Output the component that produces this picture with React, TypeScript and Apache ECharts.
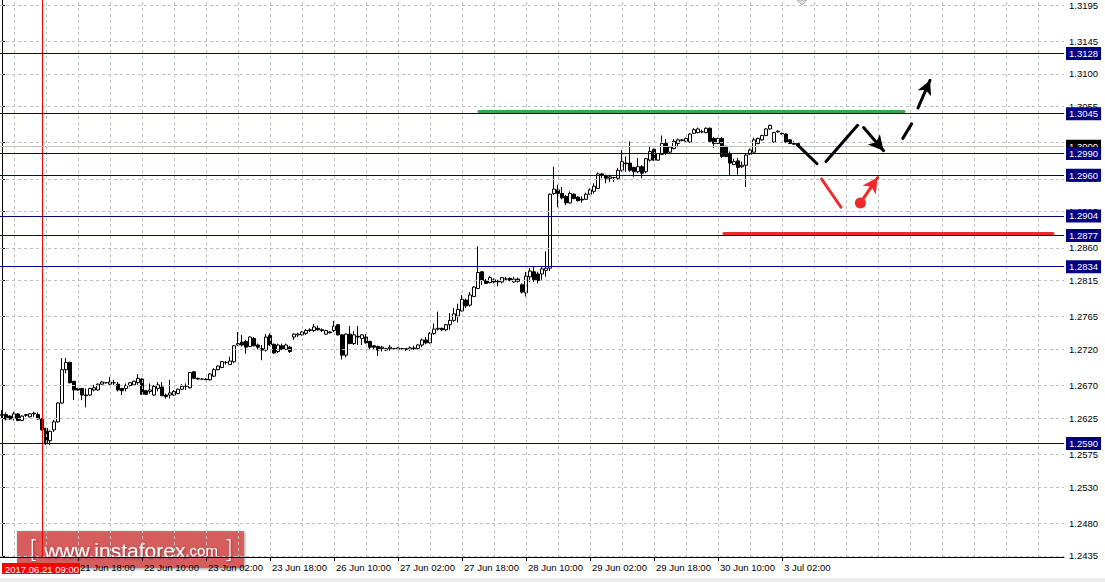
import React, { useEffect, useRef } from "react";
import * as echarts from "echarts";

// ---- H1 candles (21 Jun 2017 ... 3 Jul 2017), one slot per hour ----
const opens = [
  1.2630, 1.2630, 1.2628, 1.2625, 1.2631, 1.2622, 1.2629, 1.2627, 1.2632, 1.2630,
  1.2624, 1.2611, 1.2594, 1.2609, 1.2620, 1.2646, 1.2692, 1.2702, 1.2676, 1.2666,
  1.2666, 1.2657, 1.2657, 1.2664, 1.2664, 1.2672, 1.2674, 1.2672, 1.2674, 1.2672,
  1.2666, 1.2666, 1.2670, 1.2671, 1.2674, 1.2679, 1.2663, 1.2662, 1.2657, 1.2666,
  1.2668, 1.2657, 1.2657, 1.2657, 1.2659, 1.2665, 1.2669, 1.2667, 1.2689, 1.2680,
  1.2679, 1.2679, 1.2678, 1.2683, 1.2692, 1.2695, 1.2702, 1.2699, 1.2703, 1.2726,
  1.2730, 1.2731, 1.2724, 1.2735, 1.2726, 1.2721, 1.2719, 1.2739, 1.2727, 1.2717,
  1.2725, 1.2720, 1.2723, 1.2737, 1.2740, 1.2740, 1.2742, 1.2746, 1.2746, 1.2749,
  1.2747, 1.2741, 1.2744, 1.2746, 1.2754, 1.2740, 1.2712, 1.2741, 1.2728, 1.2738,
  1.2735, 1.2737, 1.2731, 1.2725, 1.2724, 1.2721, 1.2719, 1.2721, 1.2721, 1.2720,
  1.2721, 1.2721, 1.2720, 1.2722, 1.2721, 1.2726, 1.2733, 1.2729, 1.2742, 1.2748,
  1.2749, 1.2747, 1.2754, 1.2760, 1.2766, 1.2773, 1.2788, 1.2781, 1.2793, 1.2804,
  1.2827, 1.2815, 1.2812, 1.2816, 1.2814, 1.2813, 1.2817, 1.2818, 1.2813, 1.2817,
  1.2809, 1.2798, 1.2820, 1.2827, 1.2824, 1.2824, 1.2829, 1.2832, 1.2935, 1.2940,
  1.2935, 1.2931, 1.2922, 1.2934, 1.2930, 1.2927, 1.2927, 1.2934, 1.2938, 1.2942,
  1.2962, 1.2959, 1.2956, 1.2957, 1.2956, 1.2967, 1.2977, 1.2977, 1.2971, 1.2965,
  1.2972, 1.2965, 1.2981, 1.2996, 1.2981, 1.2989, 1.3004, 1.2992, 1.2997, 1.3004,
  1.3008, 1.3007, 1.3006, 1.3018, 1.3019, 1.3020, 1.3019, 1.3025, 1.3011, 1.3004,
  1.3011, 1.3000, 1.2990, 1.2975, 1.2980, 1.2972, 1.2974, 1.2989, 1.2992, 1.3004,
  1.3009, 1.3015, 1.3024, 1.3006, 1.3020, 1.3018, 1.3017, 1.3009, 1.3004, 1.3004,
];
const highs = [
  1.2636, 1.2633, 1.2629, 1.2634, 1.2632, 1.2629, 1.2631, 1.2632, 1.2634, 1.2633,
  1.2625, 1.2612, 1.2608, 1.2623, 1.2647, 1.2708, 1.2708, 1.2703, 1.2676, 1.2667,
  1.2667, 1.2666, 1.2667, 1.2671, 1.2673, 1.2676, 1.2675, 1.2682, 1.2678, 1.2675,
  1.2667, 1.2673, 1.2675, 1.2677, 1.2686, 1.2680, 1.2664, 1.2673, 1.2671, 1.2675,
  1.2675, 1.2659, 1.2678, 1.2664, 1.2666, 1.2672, 1.2673, 1.2689, 1.2690, 1.2681,
  1.2680, 1.2680, 1.2687, 1.2694, 1.2698, 1.2704, 1.2704, 1.2710, 1.2726, 1.2744,
  1.2740, 1.2733, 1.2738, 1.2737, 1.2728, 1.2726, 1.2741, 1.2742, 1.2728, 1.2728,
  1.2728, 1.2728, 1.2725, 1.2742, 1.2743, 1.2745, 1.2748, 1.2749, 1.2755, 1.2753,
  1.2749, 1.2747, 1.2745, 1.2759, 1.2755, 1.2741, 1.2742, 1.2752, 1.2745, 1.2752,
  1.2741, 1.2741, 1.2732, 1.2726, 1.2725, 1.2725, 1.2722, 1.2726, 1.2722, 1.2723,
  1.2722, 1.2722, 1.2724, 1.2725, 1.2727, 1.2735, 1.2737, 1.2744, 1.2756, 1.2772,
  1.2750, 1.2755, 1.2770, 1.2777, 1.2783, 1.2795, 1.2790, 1.2799, 1.2807, 1.2862,
  1.2828, 1.2817, 1.2821, 1.2818, 1.2816, 1.2820, 1.2820, 1.2819, 1.2820, 1.2819,
  1.2811, 1.2827, 1.2832, 1.2834, 1.2827, 1.2834, 1.2855, 1.2935, 1.2972, 1.2947,
  1.2944, 1.2933, 1.2938, 1.2935, 1.2931, 1.2931, 1.2936, 1.2942, 1.2949, 1.2964,
  1.2963, 1.2961, 1.2961, 1.2958, 1.2970, 1.2995, 1.2986, 1.3007, 1.2972, 1.2984,
  1.2974, 1.2984, 1.3000, 1.2997, 1.2991, 1.3015, 1.3010, 1.3000, 1.3010, 1.3011,
  1.3010, 1.3012, 1.3018, 1.3025, 1.3026, 1.3023, 1.3026, 1.3026, 1.3013, 1.3012,
  1.3013, 1.3001, 1.2993, 1.2983, 1.2984, 1.2979, 1.2990, 1.2997, 1.3012, 1.3012,
  1.3016, 1.3025, 1.3030, 1.3020, 1.3022, 1.3019, 1.3018, 1.3010, 1.3007, 1.3004,
];
const lows = [
  1.2624, 1.2622, 1.2623, 1.2622, 1.2621, 1.2621, 1.2627, 1.2626, 1.2627, 1.2623,
  1.2608, 1.2588, 1.2588, 1.2606, 1.2619, 1.2645, 1.2687, 1.2673, 1.2650, 1.2663,
  1.2650, 1.2640, 1.2656, 1.2662, 1.2663, 1.2671, 1.2673, 1.2671, 1.2671, 1.2662,
  1.2657, 1.2662, 1.2669, 1.2670, 1.2671, 1.2657, 1.2657, 1.2659, 1.2656, 1.2662,
  1.2656, 1.2652, 1.2652, 1.2656, 1.2658, 1.2664, 1.2664, 1.2666, 1.2679, 1.2678,
  1.2678, 1.2678, 1.2677, 1.2682, 1.2691, 1.2694, 1.2699, 1.2699, 1.2701, 1.2725,
  1.2724, 1.2714, 1.2723, 1.2724, 1.2720, 1.2705, 1.2717, 1.2725, 1.2714, 1.2715,
  1.2719, 1.2719, 1.2715, 1.2733, 1.2737, 1.2739, 1.2740, 1.2744, 1.2744, 1.2746,
  1.2744, 1.2740, 1.2742, 1.2744, 1.2739, 1.2706, 1.2709, 1.2727, 1.2726, 1.2726,
  1.2726, 1.2728, 1.2720, 1.2719, 1.2711, 1.2717, 1.2718, 1.2718, 1.2720, 1.2719,
  1.2720, 1.2718, 1.2718, 1.2719, 1.2720, 1.2723, 1.2727, 1.2728, 1.2740, 1.2746,
  1.2745, 1.2745, 1.2747, 1.2758, 1.2757, 1.2772, 1.2777, 1.2779, 1.2792, 1.2803,
  1.2809, 1.2810, 1.2811, 1.2811, 1.2807, 1.2811, 1.2814, 1.2814, 1.2812, 1.2812,
  1.2797, 1.2793, 1.2813, 1.2813, 1.2811, 1.2816, 1.2820, 1.2828, 1.2933, 1.2916,
  1.2927, 1.2919, 1.2921, 1.2927, 1.2924, 1.2922, 1.2926, 1.2933, 1.2935, 1.2941,
  1.2956, 1.2949, 1.2951, 1.2951, 1.2954, 1.2965, 1.2965, 1.2965, 1.2958, 1.2963,
  1.2956, 1.2963, 1.2979, 1.2980, 1.2980, 1.2988, 1.2988, 1.2991, 1.2996, 1.2999,
  1.3007, 1.3006, 1.3005, 1.3017, 1.3018, 1.3018, 1.3018, 1.3006, 1.2998, 1.3003,
  1.2984, 1.2985, 1.2959, 1.2974, 1.2961, 1.2970, 1.2944, 1.2988, 1.2991, 1.3003,
  1.3008, 1.3014, 1.3023, 1.3005, 1.3019, 1.3016, 1.3005, 1.3003, 1.3002, 1.2999,
];
const closes = [
  1.2629, 1.2624, 1.2624, 1.2631, 1.2622, 1.2628, 1.2630, 1.2631, 1.2631, 1.2624,
  1.2609, 1.2590, 1.2607, 1.2620, 1.2646, 1.2692, 1.2702, 1.2674, 1.2664, 1.2664,
  1.2657, 1.2656, 1.2666, 1.2667, 1.2672, 1.2675, 1.2674, 1.2675, 1.2674, 1.2664,
  1.2663, 1.2670, 1.2674, 1.2676, 1.2680, 1.2658, 1.2658, 1.2664, 1.2669, 1.2671,
  1.2656, 1.2655, 1.2660, 1.2662, 1.2665, 1.2669, 1.2669, 1.2688, 1.2680, 1.2679,
  1.2679, 1.2678, 1.2686, 1.2692, 1.2697, 1.2703, 1.2702, 1.2704, 1.2725, 1.2728,
  1.2726, 1.2723, 1.2737, 1.2725, 1.2723, 1.2719, 1.2737, 1.2726, 1.2715, 1.2726,
  1.2720, 1.2726, 1.2717, 1.2741, 1.2741, 1.2744, 1.2746, 1.2747, 1.2751, 1.2747,
  1.2746, 1.2746, 1.2743, 1.2752, 1.2740, 1.2712, 1.2741, 1.2728, 1.2740, 1.2737,
  1.2740, 1.2729, 1.2723, 1.2723, 1.2719, 1.2723, 1.2721, 1.2723, 1.2721, 1.2722,
  1.2721, 1.2720, 1.2722, 1.2721, 1.2726, 1.2733, 1.2729, 1.2742, 1.2748, 1.2749,
  1.2747, 1.2754, 1.2760, 1.2769, 1.2775, 1.2789, 1.2780, 1.2795, 1.2806, 1.2826,
  1.2815, 1.2811, 1.2819, 1.2813, 1.2813, 1.2819, 1.2817, 1.2815, 1.2817, 1.2814,
  1.2799, 1.2821, 1.2828, 1.2816, 1.2815, 1.2831, 1.2832, 1.2934, 1.2941, 1.2935,
  1.2929, 1.2922, 1.2935, 1.2928, 1.2925, 1.2926, 1.2934, 1.2940, 1.2945, 1.2962,
  1.2960, 1.2956, 1.2958, 1.2957, 1.2967, 1.2979, 1.2976, 1.2967, 1.2965, 1.2972,
  1.2963, 1.2983, 1.2993, 1.2981, 1.2990, 1.3004, 1.2990, 1.2999, 1.3007, 1.3009,
  1.3009, 1.3011, 1.3017, 1.3023, 1.3024, 1.3020, 1.3025, 1.3007, 1.3004, 1.3011,
  1.2986, 1.2986, 1.2977, 1.2979, 1.2971, 1.2974, 1.2988, 1.2995, 1.3009, 1.3011,
  1.3015, 1.3024, 1.3029, 1.3019, 1.3021, 1.3017, 1.3006, 1.3004, 1.3003, 1.3000,
];

// ---- axes ----
const slotCount = 266; // hourly slots incl. empty future area
const xTickLabels = [
  "21 Jun 18:00", "22 Jun 10:00", "23 Jun 02:00", "23 Jun 18:00", "26 Jun 10:00", "27 Jun 02:00",
  "27 Jun 18:00", "28 Jun 10:00", "29 Jun 02:00", "29 Jun 18:00", "30 Jun 10:00", "3 Jul 02:00",
];
const xTickFirst = 19;
const xTickEvery = 16;
const vGridFirst = 3;
const vGridEvery = 8;
const yTickValues = [
  1.2435, 1.2480, 1.2530, 1.2575, 1.2625, 1.2670, 1.2720, 1.2765, 1.2815, 1.2860,
  1.2910, 1.2955, 1.3005, 1.3055, 1.3100, 1.3145, 1.3195,
];
const yMin = 1.24336;
const yMax = 1.32019;

// ---- levels ----
const levelLines = [1.3128, 1.3045, 1.2990, 1.2960, 1.2904, 1.2877, 1.2834, 1.2590];
const bidPrice = 1.3000;
const markerSlot = 10;
const markerText = "2017.06.21 09:00";

// ---- forecast drawings, in [slot, price] ----
const greenLevel = [[119.25, 1.3048], [225.5, 1.3048]];
const redLevel = [[180.5, 1.2880], [262.75, 1.2880]];
const blackLegA = [[198.9, 1.3002], [203.75, 1.2976]];
const blackLegB = [[206.0, 1.2979], [213.9, 1.3029]];
const blackArrow = [[215.4, 1.3026], [220.4, 1.2994]];
const dashedLeg = [[225.2, 1.3011], [227.4, 1.3031]];
const dashedArrow = [[229.0, 1.3053], [232.0, 1.3091]];
const redLeg = [[204.9, 1.2955], [209.75, 1.2916]];
const redDot = [214.6, 1.2922];
const redArrow = [[214.6, 1.2922], [218.9, 1.2957]];

const FONT = "'Liberation Sans', Arial, sans-serif";

function seg(pts: number[][], color: string, width: number, arrow: boolean, size: number[] = [11, 14]) {
  return [
    { coord: pts[0], symbol: "none", lineStyle: { color, width, type: "solid", cap: "round" } },
    { coord: pts[1], symbol: arrow ? "arrow" : "none", symbolSize: arrow ? size : 0, itemStyle: { color } },
  ];
}

export default function App() {
  const ref = useRef<HTMLDivElement>(null);

  useEffect(() => {
    if (!ref.current) return;
    const chart = echarts.init(ref.current, undefined, { renderer: "svg" });

    const cats = Array.from({ length: slotCount }, (_, i) => String(i));
    const candles = opens.map((o, i) => [o, closes[i], lows[i], highs[i]]);
    const isTick = (i: number) =>
      i >= xTickFirst && (i - xTickFirst) % xTickEvery === 0 && (i - xTickFirst) / xTickEvery < xTickLabels.length;

    const gridLines: any[] = [];
    for (let i = vGridFirst; i < slotCount; i += vGridEvery) gridLines.push({ xAxis: i });
    yTickValues.forEach((v) => gridLines.push({ yAxis: v }));

    const levelLabel = (bg: string) => ({
      show: true,
      position: "end",
      distance: 2,
      backgroundColor: bg,
      color: "#fff",
      fontSize: 9.5,
      fontFamily: FONT,
      padding: [2, 3, 1, 3],
      formatter: (p: any) => Number(p.value).toFixed(4),
    });

    const option: any = {
      animation: false,
      textStyle: { fontFamily: FONT },
      grid: { left: 0, right: 41, top: 0, bottom: 25, containLabel: false },
      xAxis: [
        {
          type: "category",
          data: cats,
          boundaryGap: true,
          axisLine: { show: true, lineStyle: { color: "#000", width: 1 } },
          axisTick: { show: true, alignWithLabel: true, interval: (i: number) => isTick(i), length: 4, lineStyle: { color: "#000" } },
          axisLabel: {
            show: true,
            interval: (i: number) => isTick(i),
            formatter: (_v: string, i: number) => xTickLabels[(i - xTickFirst) / xTickEvery] || "",
            align: "left",
            color: "#000",
            fontSize: 9.5,
            fontFamily: FONT,
            margin: 5,
            padding: [0, 0, 0, 2],
            hideOverlap: false,
          },
          splitLine: { show: false },
        },
        { type: "value", min: -0.5, max: slotCount - 0.5, show: false },
      ],
      yAxis: {
        type: "value",
        position: "right",
        min: yMin,
        max: yMax,
        axisLine: { show: true, lineStyle: { color: "#000", width: 1 } },
        axisTick: { show: true, customValues: yTickValues, length: 3, lineStyle: { color: "#000" } },
        axisLabel: {
          customValues: yTickValues,
          formatter: (v: any) => Number(v).toFixed(4),
          color: "#000",
          fontSize: 9.5,
          fontFamily: FONT,
          margin: 5,
        },
        splitLine: { show: false },
      },
      series: [
        {
          type: "line",
          data: [],
          z: 1,
          silent: true,
          markLine: {
            silent: true,
            precision: 5,
            symbol: ["none", "none"],
            label: { show: false },
            emphasis: { disabled: true },
            lineStyle: { color: "#c0c0c0", type: [3, 3], width: 1 },
            data: gridLines,
          },
        },
        {
          type: "candlestick",
          data: candles,
          z: 3,
          barWidth: 3,
          silent: true,
          itemStyle: { color: "#fff", color0: "#000", borderColor: "#000", borderColor0: "#000", borderWidth: 1 },
          markLine: {
            silent: true,
            precision: 5,
            symbol: ["none", "none"],
            label: { show: false },
            emphasis: { disabled: true },
            lineStyle: { color: "#ff0000", type: "solid", width: 1 },
            data: [{ xAxis: markerSlot }],
          },
        },
        {
          type: "line",
          data: [],
          z: 4,
          silent: true,
          markLine: {
            silent: true,
            precision: 5,
            symbol: ["none", "none"],
            emphasis: { disabled: true },
            data: [
              { yAxis: bidPrice, lineStyle: { color: "#c0c0c0", type: "solid", width: 1 }, label: levelLabel("#000") },
              ...levelLines.map((v) => ({
                yAxis: v,
                lineStyle: { color: "#000080", type: "solid", width: 1 },
                label: levelLabel("#000080"),
              })),
            ],
          },
        },
        {
          type: "line",
          data: [],
          xAxisIndex: 1,
          z: 5,
          silent: true,
          markLine: {
            silent: true,
            precision: 5,
            symbol: ["none", "none"],
            label: { show: false },
            emphasis: { disabled: true },
            data: [
              seg(greenLevel, "#36a845", 3, false),
              seg(redLevel, "#ee2a2a", 3, false),
              seg(blackLegA, "#000", 3, false),
              seg(blackLegB, "#000", 3, false),
              seg(blackArrow, "#000", 3, true, [12, 15]),
              seg(dashedLeg, "#000", 3, false),
              seg(dashedArrow, "#000", 3, true, [11, 14]),
              seg(redLeg, "#ee2a2a", 3, false),
              seg(redArrow, "#ee2a2a", 3, true, [12, 15]),
            ],
          },
          markPoint: {
            silent: true,
            label: { show: false },
            emphasis: { disabled: true },
            data: [{ coord: redDot, symbol: "circle", symbolSize: 11, itemStyle: { color: "#ee2a2a" } }],
          },
        },
      ],
      graphic: [
        {
          type: "rect",
          left: 0,
          top: 578,
          z: 1,
          shape: { width: 1105, height: 4 },
          style: { fill: "#ececec" },
        },
        {
          type: "polygon",
          z: 10,
          shape: { points: [[797, 0], [807, 0], [802, 5]] },
          style: { fill: "#e0e0e0", stroke: "#b0b0b0", lineWidth: 1 },
        },
        {
          type: "rect",
          left: 2,
          top: 563,
          z: 50,
          shape: { width: 78, height: 11 },
          style: { fill: "#ff0000" },
        },
        {
          type: "text",
          left: 5,
          top: 564,
          z: 51,
          style: { text: markerText, fill: "#fff", fontSize: 9.5, fontFamily: FONT },
        },
        {
          type: "group",
          left: 17,
          top: 531,
          z: 100,
          children: [
            {
              type: "rect",
              shape: { x: 0, y: 0, width: 227, height: 37 },
              style: {
                fill: "rgba(218, 78, 78, 0.86)",
                shadowBlur: 3,
                shadowColor: "rgba(0,0,0,0.45)",
                shadowOffsetX: 1,
                shadowOffsetY: 1,
              },
            },
            {
              type: "text",
              x: 12,
              y: 19,
              style: {
                text: "{b|[} {w|www.instaforex}{c|.com} {b|]}",
                verticalAlign: "middle",
                fill: "#fff",
                fontSize: 21,
                fontFamily: FONT,
                textShadowColor: "rgba(0,0,0,0.35)",
                textShadowBlur: 2,
                textShadowOffsetX: 1,
                textShadowOffsetY: 1,
                rich: {
                  b: { fontSize: 24, fontFamily: "'DejaVu Sans', sans-serif", fill: "#fff", fontWeight: "lighter" },
                  w: { fontSize: 21, fontFamily: FONT, fill: "#fff" },
                  c: { fontSize: 15, fontFamily: FONT, fill: "#fff" },
                },
              },
            },
          ],
        },
      ],
    };

    chart.setOption(option);
    return () => chart.dispose();
  }, []);

  return (
    <div
      ref={ref}
      style={{ position: "absolute", left: 0, top: 0, width: 1105, height: 582, background: "#fff" }}
    />
  );
}
